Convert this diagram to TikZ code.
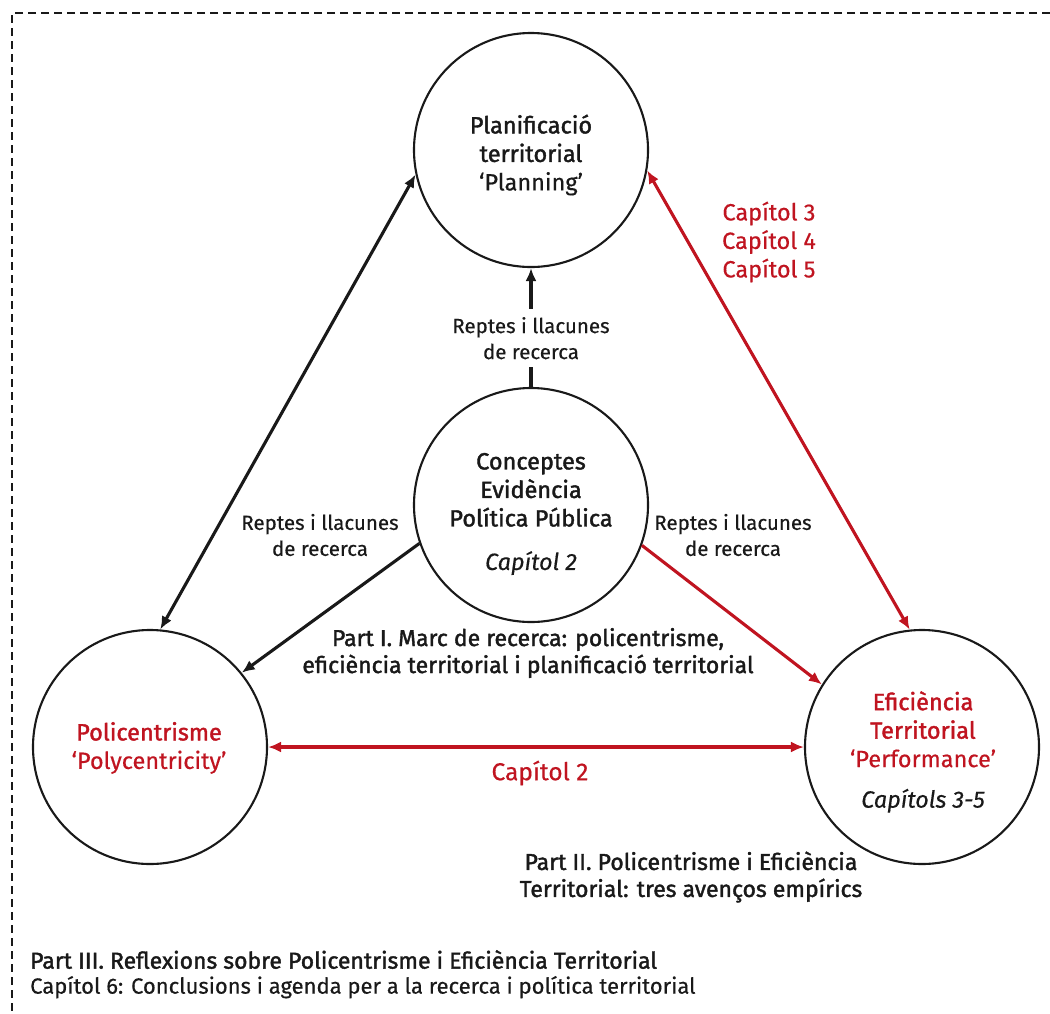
\documentclass[tikz,border=0pt]{standalone}
\usepackage{fontspec}
\setmainfont{Fira Sans}[FakeBold=0.4]
\newfontfamily\medfont{Fira Sans}[FakeBold=1.6]
\usetikzlibrary{arrows.meta}
\definecolor{crimson}{RGB}{192,20,32}
\definecolor{ink}{RGB}{25,25,25}
\tikzset{
  ring/.style={circle, draw=ink, line width=2.1pt, minimum size=234pt, inner sep=0pt},
  link/.style={line width=3.1pt, draw=ink},
  redlink/.style={line width=3.1pt, draw=crimson},
  both/.style={{Latex[length=13pt,width=11pt]}-{Latex[length=13pt,width=11pt]}},
  fwd/.style={-{Latex[length=13pt,width=11pt]}},
  title/.style={align=center, text=ink, font=\fontsize{23.5}{28.5}\selectfont},
  note/.style={align=center, text=ink, font=\fontsize{20.5}{26}\selectfont},
  part/.style={align=center, text=ink, font=\medfont\fontsize{23}{27}\selectfont},
}
\begin{document}
\begin{tikzpicture}[x=1pt, y=-1pt]
  \useasboundingbox (0,0) rectangle (1050,1013);
  \fill[white] (0,0) rectangle (1050,1013);

  % dashed frame (top and left edges)
  \coordinate (frTR) at (1050,13);
  \coordinate (frTL) at (12,13);
  \coordinate (frBL) at (12,1013);
  \draw[ink, line width=2.4pt, dash pattern=on 8pt off 5pt] (frTR) -- (frTL) -- (frBL);

  % circles
  \node[ring] (plan) at (531,150) {};
  \node[ring] (core) at (531,505) {};
  \node[ring] (poly) at (150,747) {};
  \node[ring] (perf) at (922,747) {};

  % circle texts
  \node[title] (planT) at (531,155)
    {{\medfont Planificació}\\{\medfont territorial}\\‘Planning’};
  \node[title] (coreT) at (531,514)
    {{\medfont Conceptes}\\{\medfont Evidència}\\{\medfont Política Pública}\\[15pt]\textit{Capítol 2}};
  \node[title, text=crimson] (polyT) at (149,748)
    {{\medfont Policentrisme}\\‘Polycentricity’};
  \node[title, text=crimson] (perfT) at (923,752)
    {{\medfont Eficiència}\\{\medfont Territorial}\\‘Performance’\\[12pt]\textcolor{ink}{\textit{Capítols 3-5}}};

  % connectors
  \draw[link, both] (plan.192) -- (poly.85);
  \draw[redlink, both] (plan.350) -- (perf.96);
  \draw[redlink, both] (poly.east) -- (perf.west);
  \draw[link, fwd] (core.199.5) -- (poly.39);
  \draw[redlink, fwd] (core.340.7) -- (perf.148);
  \draw[link, fwd] (core.north) --
    node[pos=0.41, fill=white, inner sep=8pt, note] (gapTop) {Reptes i llacunes\\de recerca}
    (plan.south);

  % side labels
  \node[note] (gapLeft) at (320,535) {Reptes i llacunes\\de recerca};
  \node[note] (gapRight) at (733,535) {Reptes i llacunes\\de recerca};
  \node[title, text=crimson] (chaps) at (769,242) {Capítol 3\\Capítol 4\\Capítol 5};
  \node[title, text=crimson, font=\fontsize{24.5}{28}\selectfont] (chapTwo) at (540,773) {Capítol 2};

  % part captions
  \node[part] (partOne) at (528,653)
    {Part I. Marc de recerca: policentrisme,\\eficiència territorial i planificació territorial};
  \node[part] (partTwo) at (691,877)
    {Part II. Policentrisme i Eficiència\\Territorial: tres avenços empírics};
  \node[anchor=north west, align=left, text=ink, font=\fontsize{23}{25}\selectfont, inner sep=0pt] (partThree) at (30,950)
    {{\medfont Part III. Reflexions sobre Policentrisme i Eficiència Territorial}\\{\fontsize{22}{25}\selectfont Capítol 6: Conclusions i agenda per a la recerca i política territorial}};
\end{tikzpicture}
\end{document}
